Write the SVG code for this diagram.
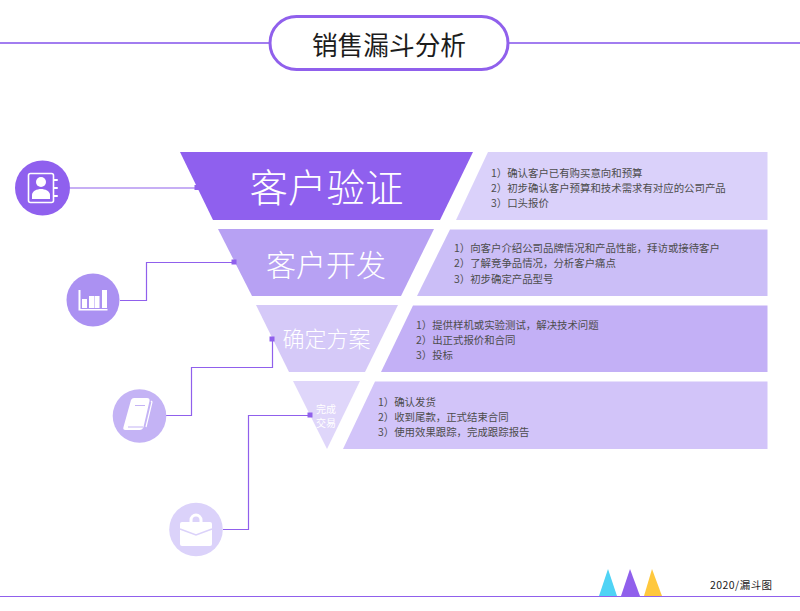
<svg xmlns="http://www.w3.org/2000/svg" width="800" height="611" viewBox="0 0 800 611">
<style>
text{font-family:"Noto Sans CJK SC","Liberation Sans",sans-serif}
.w{fill:#fff}
.l{fill:none;stroke:#9060ec;stroke-width:1.2}
.sq{fill:#9060ec}
.big{fill:#fff;text-anchor:middle;font-weight:300}
.t{font-size:10.420px;fill:#4d4d4d}
</style>
<rect width="800" height="611" fill="#fff"/>
<g id="header">
<path d="M0 43H270M508 43H800" fill="none" stroke="#a27df0" stroke-width="2"/>
<rect x="270" y="16.500" width="238" height="53" rx="26.500" fill="#fff" stroke="#9060ec" stroke-width="3"/>
<text x="389" y="55" font-size="25.700" text-anchor="middle" fill="#1c1c1c">销售漏斗分析</text>
</g>
<g id="connectors">
<path class="l" d="M70 188H197"/>
<path class="l" d="M120 300.500H146.500V262.500H234"/>
<path class="l" d="M166 415.500H191.500V367.500H272.500V339"/>
<path class="l" d="M223 529.500H248.500V415.500H310"/>
</g>
<g id="funnel1"><polygon points="180,152 473,152 440,220 213,220" fill="#8f60ee"/><rect class="sq" x="194.500" y="185" width="5" height="5"/><text class="big" x="326.500" y="202" font-size="38.500">客户验证</text></g>
<g id="funnel2"><polygon points="218,229 434,229 401,296 252,296" fill="#b7a1f3"/><rect class="sq" x="231.500" y="259.500" width="5" height="5"/><text class="big" x="326" y="276" font-size="30">客户开发</text></g>
<g id="funnel3"><polygon points="256,305 398,305 365,372 289,372" fill="#d5c9f8"/><rect class="sq" x="269.500" y="336.500" width="5" height="5"/><text class="big" x="326.500" y="347" font-size="22">确定方案</text></g>
<g id="funnel4"><polygon points="293,381 360,381 327,449" fill="#dfd6fa"/><rect class="sq" x="307.500" y="412.500" width="5" height="5"/><text class="big" x="326" y="413" font-size="10" style="font-weight:400">完成</text><text class="big" x="326" y="427" font-size="10" style="font-weight:400">交易</text></g>
<g id="panel1"><polygon points="488,152 767.500,152 767.500,220 456,220" fill="#dad1fa"/><text class="t" x="491" y="176.500">1）确认客户已有购买意向和预算</text><text class="t" x="491" y="191.500">2）初步确认客户预算和技术需求有对应的公司产品</text><text class="t" x="491" y="206.500">3）口头报价</text></g>
<g id="panel2"><polygon points="450,229.500 767.500,229.500 767.500,296 417,296" fill="#cbbef7"/><text class="t" x="454" y="252">1）向客户介绍公司品牌情况和产品性能，拜访或接待客户</text><text class="t" x="454" y="267">2）了解竞争品情况，分析客户痛点</text><text class="t" x="454" y="282.500">3）初步确定产品型号</text></g>
<g id="panel3"><polygon points="413,305.500 767.500,305.500 767.500,372 381,372" fill="#c3b0f6"/><text class="t" x="416" y="328.500">1）提供样机或实验测试，解决技术问题</text><text class="t" x="416" y="343.500">2）出正式报价和合同</text><text class="t" x="416" y="358.500">3）投标</text></g>
<g id="panel4"><polygon points="375,381.500 767.500,381.500 767.500,449 343,449" fill="#d2c4f9"/><text class="t" x="378" y="405.500">1）确认发货</text><text class="t" x="378" y="420.500">2）收到尾款，正式结束合同</text><text class="t" x="378" y="435.500">3）使用效果跟踪，完成跟踪报告</text></g>
<g id="icon1"><circle cx="42.500" cy="188" r="27.500" fill="#8f60ee"/>
<rect x="28.500" y="173.500" width="25" height="29" rx="2" fill="none" stroke="#fff" stroke-width="1.600"/>
<path d="M54 180h3M54 188h3M54 196h3" stroke="#fff" stroke-width="2" stroke-linecap="round"/>
<circle cx="41" cy="182" r="5" class="w"/><path class="w" d="M32 199v-4c0-4 5-6 9-6s9 2 9 6v4z"/></g>
<g id="icon2"><circle cx="93" cy="300" r="26.500" fill="#ab91f2"/>
<path class="w" d="M79 290h1.500v19h27v1.500H78.500V290z"/><rect class="w" x="82" y="299" width="5" height="9"/><rect class="w" x="89" y="296" width="5" height="12"/><rect class="w" x="94.500" y="296" width="5" height="12"/><rect class="w" x="102" y="290" width="5" height="18"/></g>
<g id="icon3"><circle cx="139.500" cy="416" r="26.800" fill="#c4b3f5"/>
<path class="w" d="M131 400q1-2 3-2h13q3 0 2.500 3l-6 26q-1 3-4 3h-14q-3 0-2-3z"/><path d="M151 401l1 1-6 25" fill="none" stroke="#fff" stroke-width="1.200"/><path d="M135 405.500h10M128 427h15" stroke="#c4b3f5" stroke-width="1.200"/></g>
<g id="icon4"><circle cx="196" cy="529.500" r="26.800" fill="#dbd2fa"/>
<path d="M191 525v-5a5 5 0 0 1 10 0v5" fill="none" stroke="#fff" stroke-width="3"/><rect class="w" x="180" y="522" width="32" height="24" rx="2"/><path d="M180 529l16 6 16-6" fill="none" stroke="#dbd2fa" stroke-width="1.500"/></g>
<g id="footer">
<path d="M0 596.500H800" stroke="#9060ec" stroke-width="1.200"/>
<polygon points="599,596 608,569 617,596" fill="#4fd3f5"/><polygon points="621,596 630,569 640,596" fill="#9060ec"/><polygon points="644,596 652,569 662,596" fill="#ffc83d"/>
<text x="710" y="589" font-size="10.500" letter-spacing="0.450" fill="#222">2020/漏斗图</text></g>
</svg>
